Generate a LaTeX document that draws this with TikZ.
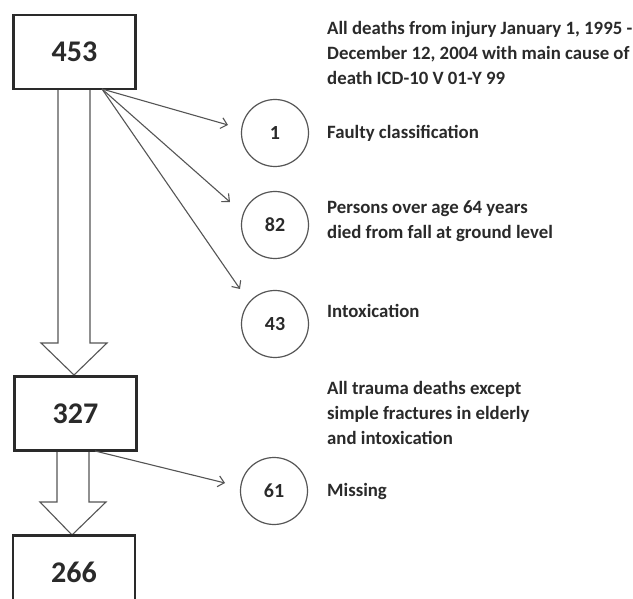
\documentclass[tikz,border=0pt]{standalone}
\usepackage{fontspec}
\setmainfont{Carlito}
\usetikzlibrary{arrows.meta,calc}
\definecolor{ink}{HTML}{2A2A2A}
\definecolor{gline}{HTML}{555555}
\begin{document}
\begin{tikzpicture}[x=1pt,y=-1pt,
  countbox/.style={draw=ink,line width=2.4pt,fill=white,minimum width=122pt,minimum height=74pt,inner sep=0pt,font=\fontsize{30}{30}\selectfont\bfseries,text=ink},
  countcirc/.style={circle,draw=gline,line width=1.2pt,minimum size=67pt,inner sep=0pt,font=\fontsize{20}{20}\selectfont\bfseries,text=ink},
  lbl/.style={anchor=west,align=left,inner sep=0pt,font=\fontsize{18.8}{25}\selectfont\bfseries,text=ink},
  thin/.style={draw=gline,line width=1.1pt,-{Straight Barb[length=6pt,width=11pt,line width=1.1pt]}},
  blockarrow/.style={draw=gline,line width=1.1pt,fill=white,line join=miter}
]
\useasboundingbox (0,0) rectangle (633,599);
\clip (0,0) rectangle (633,599);
\fill[white] (0,0) rectangle (633,599);

% block arrows (drawn first so boxes overlay)
\draw[blockarrow] (58,89) -- (58,343) -- (41,343) -- (74,375) -- (107,343) -- (90,343) -- (90,89);
\draw[blockarrow] (57,451) -- (57,502) -- (40,502) -- (72,535) -- (106,502) -- (89,502) -- (89,451);

\node[countbox] (b453) at (74.5,52) {453};
\node[countbox] (b327) at (75.5,413.5) {327};
\node[countbox] (b266) at (74,572.5) {266};

\node[countcirc] (c1)  at (275,133) {1};
\node[countcirc] (c82) at (275,225) {82};
\node[countcirc] (c43) at (275,324) {43};
\node[countcirc] (c61) at (274,491) {61};

\coordinate (s1) at (102,89);
\coordinate (e1) at (228,125);
\coordinate (e2) at (230,202);
\coordinate (e3) at (240,289);
\coordinate (s2) at (95,451);
\coordinate (e4) at (225,483);

\draw[thin] (s1) -- (e1);
\draw[thin] (s1) -- (e2);
\draw[thin] (s1) -- (e3);
\draw[thin] (s2) -- (e4);

\node[lbl] (t0) at (327,53) {All deaths from injury January 1, 1995 -\\December 12, 2004 with main cause of\\death ICD-10 V 01-Y 99};
\node[lbl] (t1) at (327,133) {Faulty classification};
\node[lbl] (t2) at (327,221) {Persons over age 64 years\\died from fall at ground level};
\node[lbl] (t3) at (327,311) {Intoxication};
\node[lbl] (t4) at (327,413) {All trauma deaths except\\simple fractures in elderly\\and intoxication};
\node[lbl] (t5) at (327,491) {Missing};
\end{tikzpicture}
\end{document}
